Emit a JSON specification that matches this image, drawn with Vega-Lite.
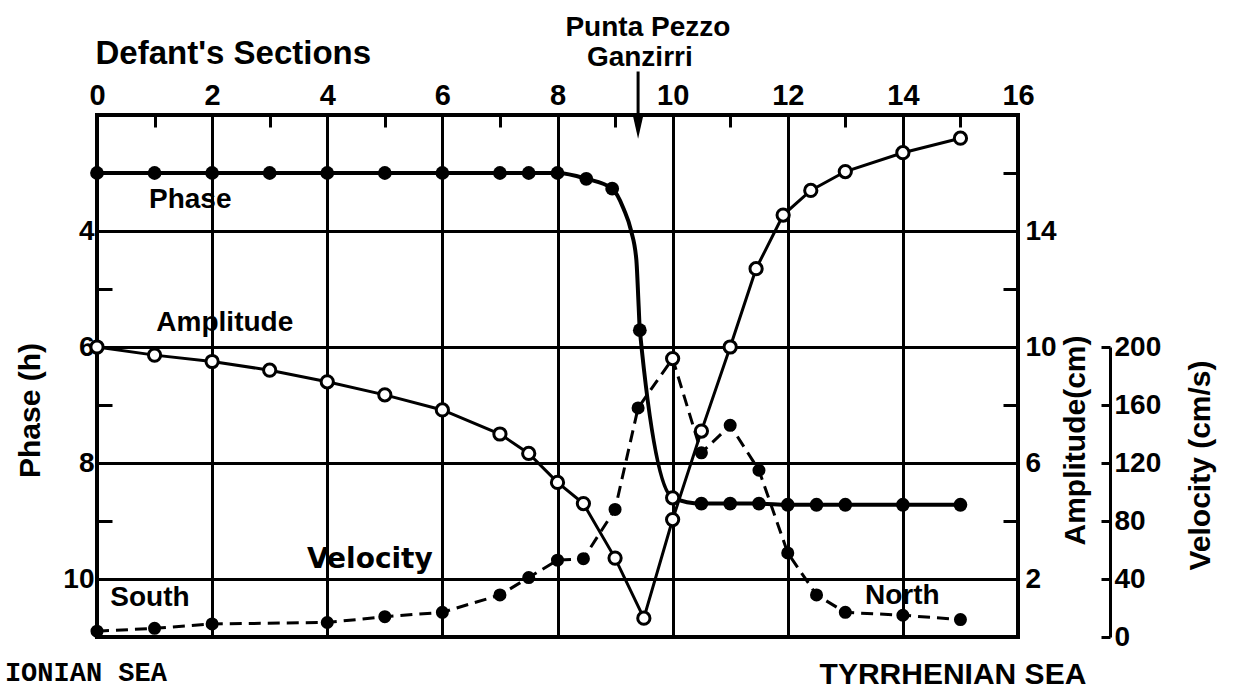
{
  "$schema": "https://vega.github.io/schema/vega-lite/v6.json",
  "width": 921,
  "height": 522,
  "autosize": {"type": "none"},
  "padding": {"left": 97, "top": 115, "right": 215, "bottom": 63},
  "background": "white",
  "config": {
    "view": {"stroke": "black", "strokeWidth": 4},
    "font": "Liberation Sans",
    "axis": {
      "labelFont": "Liberation Sans",
      "labelFontWeight": "bold",
      "labelColor": "black",
      "labelFontSize": 28,
      "titleFont": "Liberation Sans",
      "titleFontWeight": "bold",
      "titleColor": "black",
      "titleFontSize": 30,
      "tickColor": "black",
      "domainColor": "black",
      "gridColor": "black",
      "labelFlush": false,
      "labelOverlap": false,
      "labelBound": false,
      "format": "d"
    }
  },
  "datasets": {
    "phase": [
      {"section": 0, "phase": 3.0, "kind": "station"},
      {"section": 1, "phase": 3.0, "kind": "station"},
      {"section": 2, "phase": 3.0, "kind": "station"},
      {"section": 3, "phase": 3.0, "kind": "station"},
      {"section": 4, "phase": 3.0, "kind": "station"},
      {"section": 5, "phase": 3.0, "kind": "station"},
      {"section": 6, "phase": 3.0, "kind": "station"},
      {"section": 7, "phase": 3.0, "kind": "station"},
      {"section": 7.5, "phase": 3.0, "kind": "station"},
      {"section": 8, "phase": 3.0, "kind": "station"},
      {"section": 8.5, "phase": 3.1, "kind": "station"},
      {"section": 8.95, "phase": 3.27, "kind": "station"},
      {"section": 9.15, "phase": 3.62, "kind": "curve"},
      {"section": 9.28, "phase": 4.0, "kind": "curve"},
      {"section": 9.37, "phase": 4.5, "kind": "curve"},
      {"section": 9.41, "phase": 5.3, "kind": "curve"},
      {"section": 9.43, "phase": 5.71, "kind": "station"},
      {"section": 10, "phase": 8.6, "kind": "station"},
      {"section": 10.5, "phase": 8.7, "kind": "station"},
      {"section": 11, "phase": 8.7, "kind": "station"},
      {"section": 11.5, "phase": 8.7, "kind": "station"},
      {"section": 12, "phase": 8.72, "kind": "station"},
      {"section": 12.5, "phase": 8.72, "kind": "station"},
      {"section": 13, "phase": 8.72, "kind": "station"},
      {"section": 14, "phase": 8.72, "kind": "station"},
      {"section": 15, "phase": 8.72, "kind": "station"}
    ],
    "amplitude": [
      {"section": 0, "amplitude": 10.0},
      {"section": 1, "amplitude": 9.72},
      {"section": 2, "amplitude": 9.5},
      {"section": 3, "amplitude": 9.2},
      {"section": 4, "amplitude": 8.8},
      {"section": 5, "amplitude": 8.35},
      {"section": 6, "amplitude": 7.83},
      {"section": 7, "amplitude": 7.0},
      {"section": 7.5, "amplitude": 6.33},
      {"section": 8, "amplitude": 5.33},
      {"section": 8.45, "amplitude": 4.6},
      {"section": 9.0, "amplitude": 2.72},
      {"section": 9.5, "amplitude": 0.65},
      {"section": 10, "amplitude": 4.05},
      {"section": 10.5, "amplitude": 7.1},
      {"section": 11, "amplitude": 10.0},
      {"section": 11.45, "amplitude": 12.7},
      {"section": 11.92, "amplitude": 14.55},
      {"section": 12.4, "amplitude": 15.4},
      {"section": 13, "amplitude": 16.05},
      {"section": 14, "amplitude": 16.7},
      {"section": 15, "amplitude": 17.2}
    ],
    "velocity": [
      {"section": 0, "velocity": 4},
      {"section": 1, "velocity": 6},
      {"section": 2, "velocity": 9},
      {"section": 4, "velocity": 10},
      {"section": 5, "velocity": 14},
      {"section": 6, "velocity": 17},
      {"section": 7, "velocity": 29},
      {"section": 7.5, "velocity": 41},
      {"section": 8, "velocity": 53},
      {"section": 8.45, "velocity": 54},
      {"section": 9, "velocity": 88},
      {"section": 9.4, "velocity": 158},
      {"section": 10, "velocity": 192},
      {"section": 10.5, "velocity": 127},
      {"section": 11, "velocity": 146},
      {"section": 11.5, "velocity": 115},
      {"section": 12, "velocity": 58},
      {"section": 12.5, "velocity": 29},
      {"section": 13, "velocity": 17},
      {"section": 14, "velocity": 15},
      {"section": 15, "velocity": 12}
    ]
  },
  "layer": [
    {
      "data": {"name": "phase"},
      "encoding": {
        "x": {
          "field": "section",
          "type": "quantitative",
          "scale": {"domain": [0, 16], "nice": false, "zero": false},
          "axis": {
            "orient": "top",
            "values": [0, 1, 2, 3, 4, 5, 6, 7, 8, 9, 10, 11, 12, 13, 14, 15, 16],
            "labelExpr": "datum.value % 2 == 0 ? datum.label : ''",
            "tickSize": -12,
            "tickWidth": 3,
            "labelPadding": 17,
            "labelFontSize": 29,
            "domain": false,
            "grid": true,
            "gridWidth": 3,
            "gridOpacity": {"condition": {"test": "datum.value % 2 == 0", "value": 1}, "value": 0},
            "title": "Defant's Sections",
            "titleX": -2,
            "titleY": -52,
            "titleAlign": "left",
            "titleBaseline": "alphabetic",
            "titleFontSize": 33
          }
        },
        "y": {
          "field": "phase",
          "type": "quantitative",
          "scale": {"domain": [2, 11], "reverse": true, "nice": false, "zero": false},
          "axis": {
            "orient": "left",
            "values": [3, 4, 5, 6, 7, 8, 9, 10],
            "labelExpr": "datum.value % 2 == 0 ? datum.label : ''",
            "tickSize": -15,
            "tickWidth": 3,
            "labelPadding": 18,
            "domain": false,
            "grid": true,
            "gridWidth": 3,
            "gridOpacity": {"condition": {"test": "datum.value % 2 == 0", "value": 1}, "value": 0},
            "title": "Phase (h)",
            "titleAngle": -90,
            "titleX": -67,
            "titleY": 295,
            "titleAlign": "center",
            "titleBaseline": "middle"
          }
        }
      },
      "layer": [
        {"mark": {"type": "line", "color": "black", "strokeWidth": 4, "interpolate": "monotone"}},
        {
          "transform": [{"filter": "datum.kind == 'station' && datum.section != 10"}],
          "mark": {"type": "point", "filled": true, "color": "black", "opacity": 1, "size": 190}
        },
        {
          "transform": [{"filter": "datum.section == 10"}],
          "mark": {"type": "point", "filled": true, "fill": "white", "stroke": "black", "strokeWidth": 3, "opacity": 1, "size": 150}
        }
      ]
    },
    {
      "data": {"name": "amplitude"},
      "encoding": {
        "x": {"field": "section", "type": "quantitative", "scale": {"domain": [0, 16], "nice": false, "zero": false}},
        "y": {
          "field": "amplitude",
          "type": "quantitative",
          "scale": {"domain": [0, 18], "nice": false, "zero": false},
          "axis": {
            "orient": "right",
            "values": [2, 4, 6, 8, 10, 12, 14, 16],
            "labelExpr": "datum.value % 4 == 2 ? datum.label : ''",
            "tickSize": -15,
            "tickWidth": 3,
            "labelPadding": 22,
            "domain": false,
            "grid": false,
            "title": "Amplitude(cm)",
            "titleAngle": -90,
            "titleX": 57,
            "titleY": 325,
            "titleAlign": "center",
            "titleBaseline": "middle"
          }
        }
      },
      "layer": [
        {"mark": {"type": "line", "color": "black", "strokeWidth": 3}},
        {"mark": {"type": "point", "filled": true, "fill": "white", "stroke": "black", "strokeWidth": 3, "opacity": 1, "size": 150}}
      ]
    },
    {
      "data": {"name": "velocity"},
      "encoding": {
        "x": {"field": "section", "type": "quantitative", "scale": {"domain": [0, 16], "nice": false, "zero": false}},
        "y": {
          "field": "velocity",
          "type": "quantitative",
          "scale": {"domain": [0, 360], "nice": false, "zero": false},
          "axis": {
            "orient": "right",
            "offset": 92,
            "values": [0, 40, 80, 120, 160, 200],
            "tickSize": -9,
            "tickWidth": 3,
            "labelPadding": 13,
            "labelFontSize": 28,
            "domain": true,
            "domainWidth": 3,
            "domainDash": [290, 1000],
            "grid": false,
            "title": "Velocity (cm/s)",
            "titleAngle": -90,
            "titleX": 90,
            "titleY": 350,
            "titleAlign": "center",
            "titleBaseline": "middle"
          }
        }
      },
      "layer": [
        {"mark": {"type": "line", "color": "black", "strokeWidth": 3, "strokeDash": [12, 7]}},
        {
          "transform": [{"filter": "datum.section != 10"}],
          "mark": {"type": "point", "filled": true, "color": "black", "opacity": 1, "size": 170}
        },
        {
          "transform": [{"filter": "datum.section == 10"}],
          "mark": {"type": "point", "filled": true, "fill": "white", "stroke": "black", "strokeWidth": 3, "opacity": 1, "size": 150}
        }
      ]
    },
    {
      "encoding": {
        "x": {"field": "section", "type": "quantitative", "scale": {"domain": [0, 16], "nice": false, "zero": false}},
        "y": {"field": "phase", "type": "quantitative", "scale": {"domain": [2, 11], "reverse": true, "nice": false, "zero": false}, "axis": null}
      },
      "layer": [
        {
          "data": {"values": [
            {"label": "Phase", "section": 1.62, "phase": 3.47},
            {"label": "Amplitude", "section": 2.22, "phase": 5.59},
            {"label": "South", "section": 0.92, "phase": 10.33},
            {"label": "North", "section": 13.99, "phase": 10.29},
            {"label": "Punta Pezzo", "section": 9.57, "phase": 0.5},
            {"label": "Ganzirri", "section": 9.43, "phase": 1.02}
          ]},
          "mark": {"type": "text", "font": "Liberation Sans", "fontWeight": "bold", "fontSize": 28, "align": "center", "baseline": "middle", "color": "black", "clip": false},
          "encoding": {"text": {"field": "label"}}
        },
        {
          "data": {"values": [{"label": "TYRRHENIAN SEA", "section": 14.87, "phase": 11.66}]},
          "mark": {"type": "text", "font": "Liberation Sans", "fontWeight": "bold", "fontSize": 30, "align": "center", "baseline": "middle", "color": "black"},
          "encoding": {"text": {"field": "label"}}
        },
        {
          "data": {"values": [{"label": "Velocity", "section": 4.74, "phase": 9.67}]},
          "mark": {"type": "text", "font": "DejaVu Sans", "fontWeight": "bold", "fontSize": 28, "align": "center", "baseline": "middle", "color": "black"},
          "encoding": {"text": {"field": "label"}}
        },
        {
          "data": {"values": [{"label": "IONIAN SEA", "section": -1.6, "phase": 11.62}]},
          "mark": {"type": "text", "font": "Liberation Mono", "fontWeight": "bold", "fontSize": 27, "align": "left", "baseline": "middle", "color": "black"},
          "encoding": {"text": {"field": "label"}}
        },
        {
          "data": {"values": [{"section": 9.4, "phase": 1.25, "phase_end": 2.15}]},
          "mark": {"type": "rule", "color": "black", "strokeWidth": 3},
          "encoding": {"y2": {"field": "phase_end"}}
        },
        {
          "data": {"values": [{"section": 9.4, "phase": 2.22}]},
          "mark": {"type": "point", "shape": "M -0.45 -1 L 0.45 -1 L 0 1 Z", "filled": true, "color": "black", "opacity": 1, "size": 484}
        }
      ]
    }
  ],
  "resolve": {"scale": {"y": "independent"}, "axis": {"y": "independent"}}
}
